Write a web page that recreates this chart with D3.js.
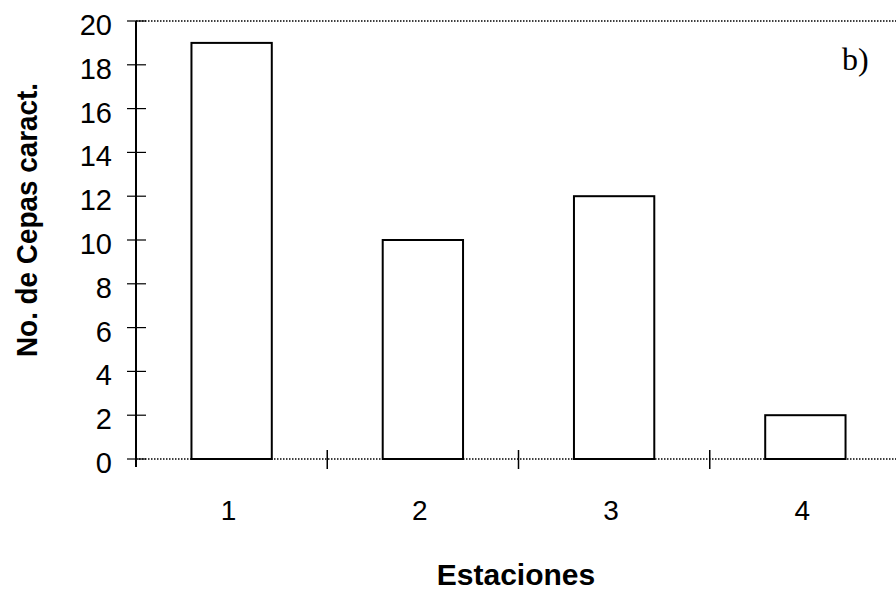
<!DOCTYPE html>
<html><head><meta charset="utf-8">
<script src="https://cdn.jsdelivr.net/npm/d3@7"></script>
<style>body{margin:0;background:#fff}svg{display:block}</style>
</head><body>
<script>
const categories = ["1","2","3","4"];
const values = [19, 10, 12, 2];
const yTicks = [0,2,4,6,8,10,12,14,16,18,20];

const W = 896, H = 593;
const svg = d3.select("body").append("svg").attr("width", W).attr("height", H);
const x0 = 136, x1 = 901, yTop = 21, yBot = 459;
const x = d3.scaleBand().domain(categories).range([x0, x1]).paddingInner(0.58).paddingOuter(0.29);
const xb = d3.scaleBand().domain(categories).range([x0, x1]);
const y = d3.scaleLinear().domain([0, 20]).range([yBot, yTop]);
const sans = "Liberation Sans, Arial, sans-serif";

// top dotted frame
svg.append("line").attr("x1", x0).attr("x2", W).attr("y1", yTop).attr("y2", yTop)
  .attr("stroke", "#000").attr("stroke-width", 1.5).attr("stroke-dasharray", "1.5,1.5");
// bottom dotted axis
svg.append("line").attr("x1", x0).attr("x2", W).attr("y1", yBot).attr("y2", yBot)
  .attr("stroke", "#000").attr("stroke-width", 1.5).attr("stroke-dasharray", "1.5,1.5");

// bars
svg.selectAll("rect.bar").data(values).enter().append("rect")
  .attr("x", (d, i) => x(categories[i]))
  .attr("width", x.bandwidth())
  .attr("y", d => y(d))
  .attr("height", d => yBot - y(d))
  .attr("fill", "#fff").attr("stroke", "#000").attr("stroke-width", 2);

// y axis
svg.append("line").attr("x1", x0).attr("x2", x0).attr("y1", yTop).attr("y2", yBot + 8)
  .attr("stroke", "#000").attr("stroke-width", 2);
const yg = svg.append("g");
yg.selectAll("line").data(yTicks).enter().append("line")
  .attr("x1", x0 - 9).attr("x2", x0 + 10)
  .attr("y1", d => y(d)).attr("y2", d => y(d))
  .attr("stroke", "#000").attr("stroke-width", 1.2);
yg.selectAll("text").data(yTicks).enter().append("text")
  .attr("x", x0 - 24).attr("y", d => y(d) + 14)
  .attr("text-anchor", "end").attr("font-family", sans)
  .attr("font-size", 29).text(d => d);

// x axis ticks (boundaries)
const bounds = categories.slice(1).map(c => xb(c));
svg.selectAll("line.xt").data(bounds).enter().append("line")
  .attr("x1", d => d).attr("x2", d => d).attr("y1", yBot - 9).attr("y2", yBot + 10)
  .attr("stroke", "#000").attr("stroke-width", 1.5);
svg.selectAll("text.xl").data(categories).enter().append("text")
  .attr("x", d => xb(d) + xb.bandwidth() / 2 - 3).attr("y", 520)
  .attr("text-anchor", "middle").attr("font-family", sans)
  .attr("font-size", 28).text(d => d);

// axis titles
svg.append("text").attr("x", 516).attr("y", 585).attr("text-anchor", "middle")
  .attr("font-family", sans).attr("font-weight", "bold")
  .attr("font-size", 30).text("Estaciones");
svg.append("text").attr("transform", "translate(37,220) rotate(-90)").attr("text-anchor", "middle")
  .attr("font-family", sans).attr("font-weight", "bold")
  .attr("font-size", 30).attr("textLength", 274).attr("lengthAdjust", "spacingAndGlyphs")
  .text("No. de Cepas caract.");

// panel label
svg.append("text").attr("x", 842).attr("y", 70)
  .attr("font-family", "Liberation Serif, Times New Roman, serif")
  .attr("font-size", 32).text("b)");
</script>
</body></html>
